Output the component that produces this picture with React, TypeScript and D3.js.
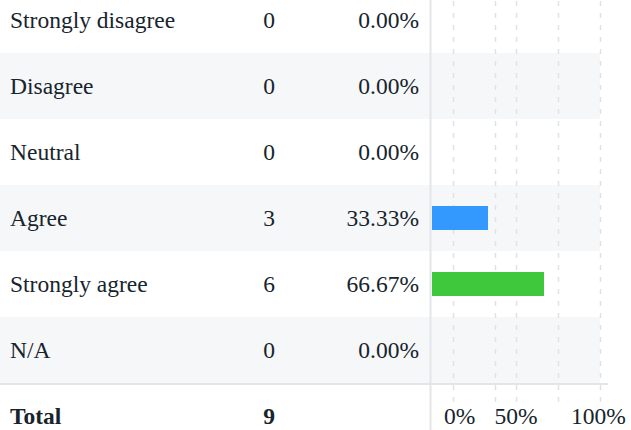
import React from "react";
import * as d3 from "d3";

const categories = ["Strongly disagree", "Disagree", "Neutral", "Agree", "Strongly agree", "N/A"];
const counts = [0, 0, 0, 3, 6, 0];
const percents = [0, 0, 0, 33.33, 66.67, 0];
const barColors = ["#e74c3c", "#f39c12", "#9aa5b1", "#3399ff", "#40c83c", "#9aa5b1"];
const gridValues = [12.5, 37.5, 50, 75, 100];
const tickLabels = ["0%", "50%", "100%"];
const tickValues = [16.5, 50, 99];
const totalLabel = "Total";
const totalCount = 9;

const W = 631;
const H = 430;

export default function App() {
  const rowH = 66;
  const top = -13;
  const y = d3
    .scaleBand<number>()
    .domain(d3.range(categories.length))
    .range([top, top + rowH * categories.length])
    .paddingInner(0)
    .paddingOuter(0);
  const x = d3.scaleLinear().domain([0, 100]).range([432, 600]);
  const tableBottom = top + rowH * categories.length;
  const totalY = tableBottom + 33;
  const font = "'Liberation Serif', 'Times New Roman', serif";
  const textColor = "#17242c";
  const barH = 24;
  const fs = 23.5;

  return (
    <div style={{ position: "absolute", left: 0, top: 0 }}>
      <svg width={W} height={H} style={{ display: "block", fontFamily: font }}>
        <rect x={0} y={0} width={W} height={H} fill="#ffffff" />
        {categories.map((c, i) =>
          i % 2 === 1 ? (
            <rect key={"bg" + i} x={0} y={y(i)!} width={x(100)} height={y.bandwidth()} fill="#f6f7f9" />
          ) : null
        )}
        <line x1={0} x2={608} y1={tableBottom + 1} y2={tableBottom + 1} stroke="#e3e5e8" strokeWidth={2} />
        {gridValues.map((g, i) => (
          <line
            key={"g" + i}
            x1={Math.round(x(g)) + 0.5}
            x2={Math.round(x(g)) + 0.5}
            y1={0}
            y2={402}
            stroke="#e2e2e2"
            strokeWidth={1.5}
            strokeDasharray="5 7"
            strokeDashoffset={-1}
          />
        ))}
        <line x1={430.5} x2={430.5} y1={0} y2={H} stroke="#e3e5e8" strokeWidth={2} />
        {categories.map((c, i) => {
          const cy = y(i)! + y.bandwidth() / 2;
          return (
            <g key={"r" + i} fill={textColor} fontSize={fs}>
              <text x={10} y={cy} dy="0.33em">{c}</text>
              <text x={269} y={cy} dy="0.33em" textAnchor="middle">{counts[i]}</text>
              <text x={419} y={cy} dy="0.33em" textAnchor="end">{percents[i].toFixed(2) + "%"}</text>
              {percents[i] > 0 ? (
                <rect x={x(0)} y={cy - barH / 2} width={x(percents[i]) - x(0)} height={barH} fill={barColors[i]} />
              ) : null}
            </g>
          );
        })}
        <g fill={textColor} fontSize={fs} fontWeight="bold">
          <text x={10} y={totalY} dy="0.33em">{totalLabel}</text>
          <text x={269} y={totalY} dy="0.33em" textAnchor="middle">{totalCount}</text>
        </g>
        {tickLabels.map((t, i) => (
          <text key={"t" + i} x={x(tickValues[i])} y={totalY} dy="0.33em" fontSize={fs} textAnchor="middle" fill={textColor}>
            {t}
          </text>
        ))}
      </svg>
    </div>
  );
}
